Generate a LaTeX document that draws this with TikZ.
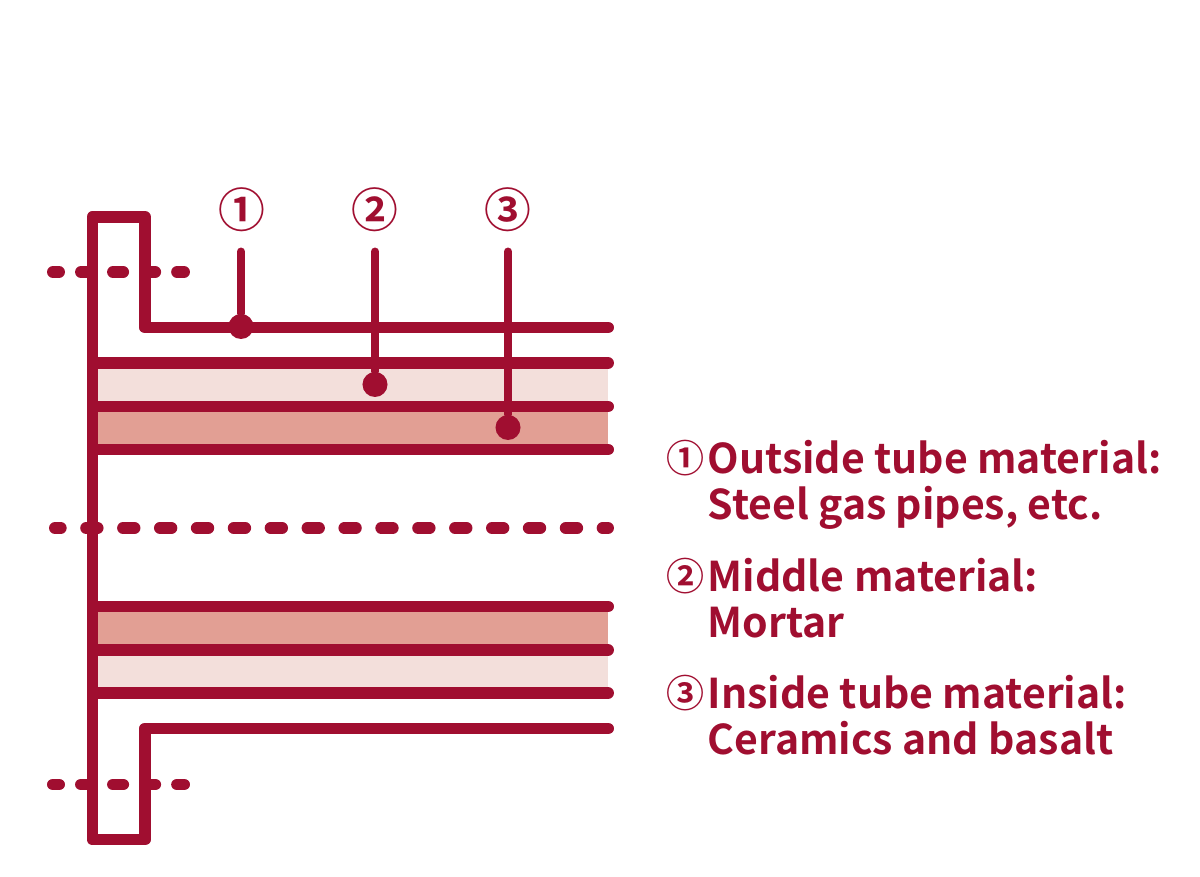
\documentclass[tikz,border=0pt]{standalone}
\usepackage{fontspec}
\setmainfont{Noto Sans CJK JP}[BoldFont={* Bold}]
\usepackage{xcolor}
\usetikzlibrary{positioning}
\definecolor{wine}{HTML}{A00E30}
\definecolor{midfill}{HTML}{F3DFDB}
\definecolor{innerfill}{HTML}{E29F94}
\tikzset{
    pipeline/.style={draw=wine, line width=3.4pt, line cap=round, line join=round},
    leader/.style={draw=wine, line width=2.25pt, line cap=round},
    shortcenter/.style={draw=wine, line width=3.4pt, line cap=round, dash pattern=on 2.85pt off 6.26pt, dash phase=1.14pt},
    longcenter/.style={draw=wine, line width=3.4pt, line cap=round, dash pattern=on 3.24pt off 7.25pt, dash phase=1.62pt},
    tipdot/.style={circle, fill=wine, inner sep=0pt, minimum size=0.25cm},
    numeral/.style={text=wine, inner sep=0pt, font=\fontsize{13.3pt}{15pt}\selectfont\bfseries},
    material/.style={text=wine, inner sep=0pt, anchor=base west, align=left, font=\fontsize{11.66pt}{13.1pt}\selectfont\bfseries},
    listnum/.style={text=wine, inner sep=0pt, font=\fontsize{10.8pt}{12pt}\selectfont\bfseries}
}
\begin{document}
\begin{tikzpicture}[x=0.01cm, y=-0.01cm]
    \useasboundingbox (0, -0.5) rectangle (1200, 876.5);

    % filling between the tubes
    \fill[midfill] (92.5, 362.5) rectangle (608, 406);
    \fill[innerfill] (92.5, 406) rectangle (608, 449);
    \fill[innerfill] (92.5, 606) rectangle (608, 649.5);
    \fill[midfill] (92.5, 649.5) rectangle (608, 692.5);

    % dashes first, flange goes over them
    \draw[shortcenter] (53, 271.5) -- (184, 271.5);
    \draw[longcenter] (55, 527.5) -- (608, 527.5);
    \draw[shortcenter] (53, 784) -- (184, 784);

    % flange and outside tube
    \draw[pipeline] (608, 327) -- (145, 327) -- (145, 216.5) -- (92.5, 216.5) -- (92.5, 839) -- (145, 839) -- (145, 728) -- (608, 728);
    \foreach \y in {362.5, 406, 449, 606, 649.5, 692.5}
        \draw[pipeline] (96, \y) -- (608, \y);

    % numbers with leaders
    \node[numeral] at (242, 209)   (n_one) {①};
    \node[numeral] at (375, 209)   (n_two) {②};
    \node[numeral] at (508, 209)   (n_three) {③};
    \coordinate (l_one) at (241, 251);
    \coordinate (l_two) at (375, 251);
    \coordinate (l_three) at (508, 251);
    \node[tipdot] at (241, 326)   (d_one) {};
    \node[tipdot] at (375, 384)   (d_two) {};
    \node[tipdot] at (508, 427)   (d_three) {};
    \draw[leader] (l_one) -- (d_one);
    \draw[leader] (l_two) -- (d_two);
    \draw[leader] (l_three) -- (d_three);

    % list of materials
    \node[listnum] at (685.5, 458)   (k_one) {①};
    \node[listnum] at (685.5, 576)   (k_two) {②};
    \node[listnum] at (685.5, 693)   (k_three) {③};
    \node[material] at (707, 519)   (t_one) {Outside tube material:\\Steel gas pipes, etc.};
    \node[material] at (707, 637)   (t_two) {Middle material:\\Mortar};
    \node[material] at (707, 754)   (t_three) {Inside tube material:\\Ceramics and basalt};
\end{tikzpicture}
\end{document}
